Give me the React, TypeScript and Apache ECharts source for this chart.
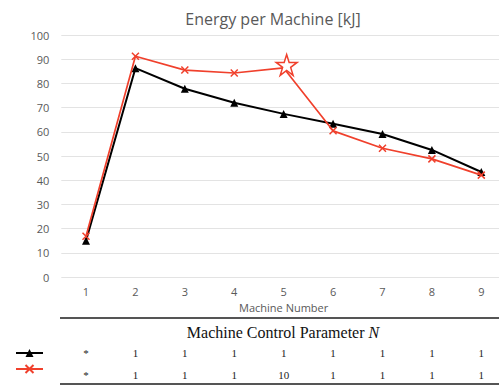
import React, { useEffect, useRef } from "react";
import * as echarts from "echarts";

const categories = ["1", "2", "3", "4", "5", "6", "7", "8", "9"];
const blackValues = [15, 86.3, 77.8, 72, 67.4, 63.3, 59.1, 52.5, 43.4];
const redValues = [16.8, 91.2, 85.5, 84.3, 86.4, 60.4, 53.2, 48.8, 42.1];
const paramBlack = ["*", "1", "1", "1", "1", "1", "1", "1", "1"];
const paramRed = ["*", "1", "1", "1", "10", "1", "1", "1", "1"];
const yTicks = { min: 0, max: 100, interval: 10 };
const starIndex = 4;

const RED = "#f0402c";
const CROSS = "path://M0,0L10,10M10,0L0,10";
const STAR =
  "path://M50,0L61.8,36.2L100,36.2L69.1,58.8L80.9,95.1L50,72.7L19.1,95.1L30.9,58.8L0,36.2L38.2,36.2Z";

export default function App() {
  const ref = useRef<HTMLDivElement>(null);
  useEffect(() => {
    if (!ref.current) return;
    const chart = echarts.init(ref.current, undefined, { renderer: "svg" });
    const hiddenAxis = (offset: number, labels: string[]) => ({
      type: "category",
      data: categories,
      position: "bottom",
      offset,
      axisLine: { show: false },
      axisTick: { show: false },
      splitLine: { show: false },
      axisLabel: {
        margin: 8,
        fontFamily: "Liberation Serif",
        fontSize: 11,
        color: "#222",
        formatter: (_v: string, i: number) => labels[i],
      },
    });
    chart.setOption({
      animation: false,
      title: {
        text: "Energy per Machine [kJ]",
        left: 268,
        textAlign: "center",
        top: 6,
        textStyle: {
          fontFamily: "Open Sans",
          fontWeight: "normal",
          fontSize: 16,
          color: "#595959",
        },
      },
      legend: {
        orient: "vertical",
        left: 10,
        top: 343,
        itemWidth: 27,
        itemHeight: 10,
        itemGap: 7,
        formatter: () => "",
        data: ["Series A", "Series B"],
      },
      grid: { left: 61.3, right: 0, top: 35, bottom: 108 },
      xAxis: [
        {
          type: "category",
          data: categories,
          name: "Machine Number",
          nameLocation: "middle",
          nameGap: 24,
          nameTextStyle: { fontFamily: "Open Sans", fontSize: 11, color: "#595959" },
          axisLine: { show: false },
          axisTick: { show: false },
          axisLabel: { margin: 9, fontFamily: "Open Sans", fontSize: 11, color: "#595959" },
        },
        hiddenAxis(62, paramBlack),
        hiddenAxis(84, paramRed),
      ],
      yAxis: {
        type: "value",
        min: yTicks.min,
        max: yTicks.max,
        interval: yTicks.interval,
        axisLine: { show: false },
        axisTick: { show: false },
        axisLabel: { margin: 12, fontFamily: "Open Sans", fontSize: 11, color: "#595959" },
        splitLine: { lineStyle: { color: "#e3e3e3", width: 1 } },
      },
      series: [
        {
          name: "Series A",
          type: "line",
          data: blackValues,
          symbol: "triangle",
          symbolSize: 8,
          color: "#000",
          lineStyle: { color: "#000", width: 2 },
          itemStyle: { color: "#000" },
          z: 2,
        },
        {
          name: "Series B",
          type: "line",
          data: redValues.map((v, i) =>
            i === starIndex
              ? {
                  value: v,
                  symbol: STAR,
                  symbolSize: 21,
                  symbolOffset: [3, -3],
                  itemStyle: { color: "#fff", borderColor: RED, borderWidth: 1.5 },
                }
              : v
          ),
          symbol: CROSS,
          symbolSize: 7,
          color: RED,
          lineStyle: { color: RED, width: 1.7 },
          itemStyle: { color: RED, borderColor: RED, borderWidth: 1.5 },
          z: 3,
        },
      ],
      graphic: [
        {
          type: "line",
          shape: { x1: 60, y1: 318, x2: 499, y2: 318 },
          style: { stroke: "#555", lineWidth: 2 },
        },
        {
          type: "line",
          shape: { x1: 60, y1: 384, x2: 499, y2: 384 },
          style: { stroke: "#555", lineWidth: 2 },
        },
        {
          type: "text",
          x: 283,
          y: 332,
          style: {
            text: "{a|Machine Control Parameter }{b|N}",
            align: "center",
            verticalAlign: "middle",
            rich: {
              a: { fontFamily: "Liberation Serif", fontSize: 16, fill: "#111" },
              b: { fontFamily: "Liberation Serif", fontSize: 16, fontStyle: "italic", fill: "#111" },
            },
          },
        },
      ],
    });
    return () => chart.dispose();
  }, []);
  return (
    <div style={{ position: "absolute", left: 0, top: 0, width: 499, height: 385, overflow: "hidden" }}>
      <div ref={ref} style={{ width: 506, height: 385 }} />
    </div>
  );
}
